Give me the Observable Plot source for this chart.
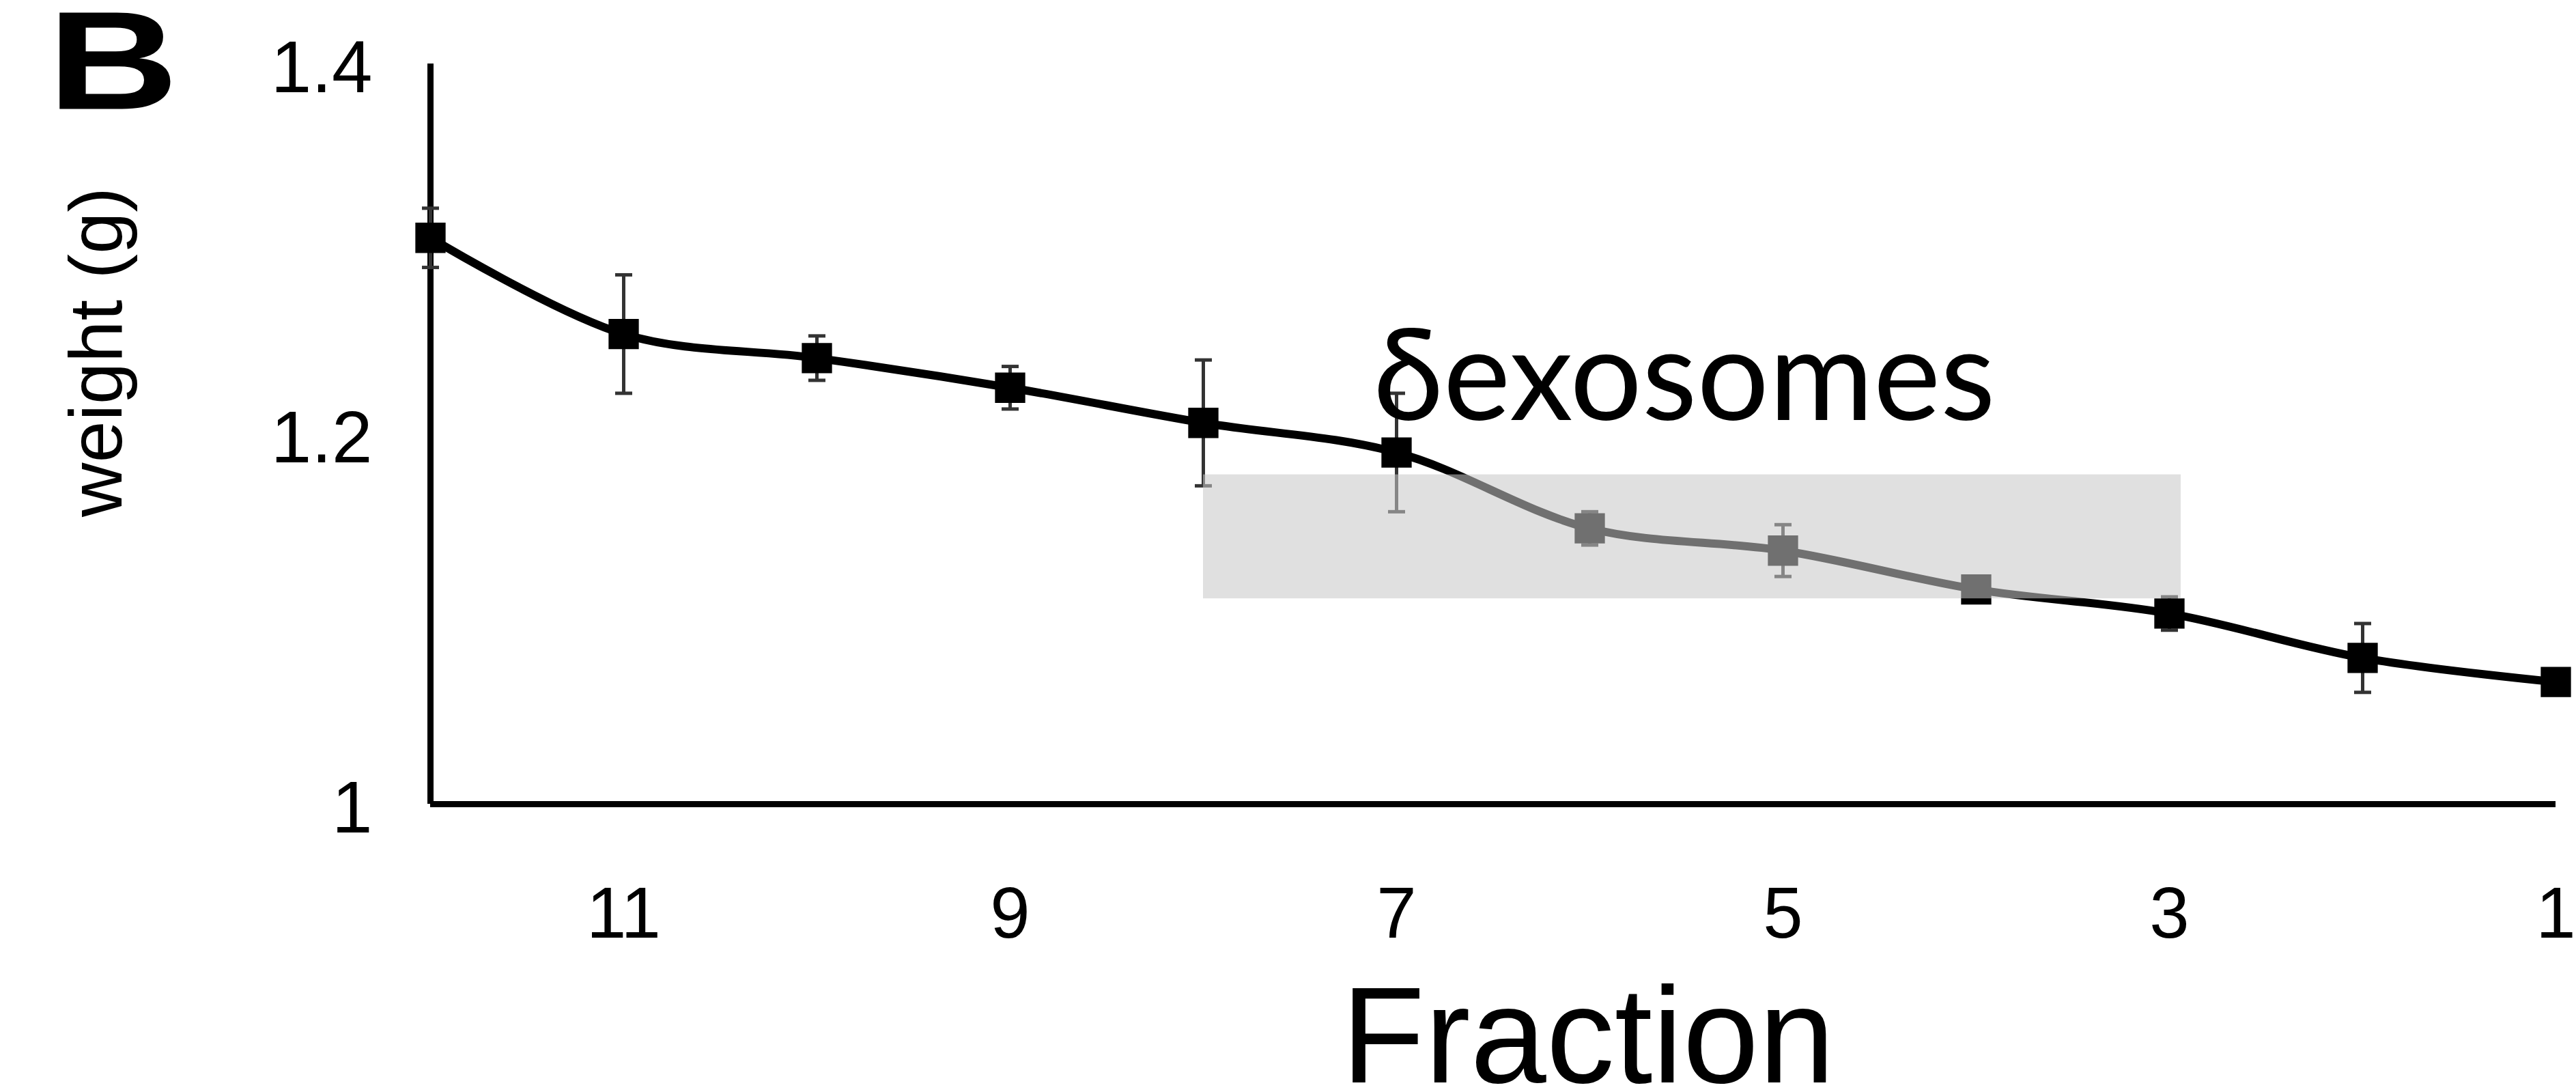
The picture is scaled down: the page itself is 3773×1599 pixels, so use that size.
<!DOCTYPE html>
<html>
<head>
<meta charset="utf-8">
<script src="https://cdn.jsdelivr.net/npm/d3@7"></script>
<script src="https://cdn.jsdelivr.net/npm/@observablehq/plot@0.6"></script>
<style>
  html, body { margin: 0; padding: 0; background: #fff; }
  #chart svg { display: block; }
</style>
</head>
<body>
<div id="chart"></div>
<script>
// ---- data ----
const fractions = [12, 11, 10, 9, 8, 7, 6, 5, 4, 3, 2, 1];
const weights   = [1.306, 1.254, 1.241, 1.225, 1.206, 1.190, 1.149, 1.137, 1.116, 1.103, 1.079, 1.066];
const errors    = [0.016, 0.032, 0.012, 0.0115, 0.034, 0.032, 0.009, 0.014, 0, 0.009, 0.0186, 0];

const xTicks = [11, 9, 7, 5, 3, 1];
const yTicks = [1, 1.2, 1.4];
const xDomain = [12, 1];
const yDomain = [1, 1.4];

// shaded exosome band (fraction range, weight range)
const bandFractions = [8, 2.94];
const bandWeights = [1.111, 1.178];

// annotation
const bandLabel = ["δexosomes"];
const bandLabelFraction = [7.12];
const bandLabelWeight = [1.2074];

const panelLabel = ["B"];
const yLabel = ["weight (g)"];
const xLabel = ["Fraction"];

// ---- build table ----
const rows = fractions.map((f, i) => ({fraction: f, weight: weights[i], err: errors[i]}));
const errRows = rows.filter(d => d.err > 0);
const band = [{x1: bandFractions[0], x2: bandFractions[1], y1: bandWeights[0], y2: bandWeights[1]}];
const labelRows = bandLabel.map((t, i) => ({text: t, x: bandLabelFraction[i], y: bandLabelWeight[i]}));

// horizontal cap symbol for error bars (width = 2r)
const capSymbol = {
  draw(context, size) {
    const r = Math.sqrt(size / Math.PI);
    context.moveTo(-r, 0);
    context.lineTo(r, 0);
  }
};

const font = "'Liberation Sans', Arial, Helvetica, sans-serif";

const chart = Plot.plot({
  width: 3773,
  height: 1599,
  marginLeft: 630,
  marginRight: 30,
  marginTop: 93,
  marginBottom: 422,
  style: {fontFamily: font, background: "#fff", color: "#000", overflow: "visible"},
  x: {domain: xDomain},
  y: {domain: yDomain},
  marks: [
    // axes lines
    Plot.ruleY([yDomain[0]], {stroke: "#000", strokeWidth: 9}),
    Plot.ruleX([xDomain[0]], {stroke: "#000", strokeWidth: 9}),
    Plot.axisX({ticks: xTicks, tickSize: 0, tickPadding: 121, fontSize: 105, label: null, tickFormat: d => String(d)}),
    Plot.axisY({ticks: yTicks, tickSize: 0, tickPadding: 85, fontSize: 107, label: null, dy: 7, tickFormat: d => String(d)}),
    // error bars
    Plot.ruleX(errRows, {x: "fraction", y1: d => d.weight - d.err, y2: d => d.weight + d.err, stroke: "#333", strokeWidth: 5}),
    Plot.dot(errRows, {x: "fraction", y: d => d.weight - d.err, symbol: capSymbol, r: 12.5, fill: "none", stroke: "#333", strokeWidth: 5}),
    Plot.dot(errRows, {x: "fraction", y: d => d.weight + d.err, symbol: capSymbol, r: 12.5, fill: "none", stroke: "#333", strokeWidth: 5}),
    // smoothed line
    Plot.line(rows, {x: "fraction", y: "weight", stroke: "#000", strokeWidth: 12, curve: "catmull-rom"}),
    // square markers
    Plot.dot(rows, {x: "fraction", y: "weight", symbol: "square", r: 25, fill: "#000", stroke: "none"}),
    // translucent gray band drawn over the series
    Plot.rect(band, {x1: "x1", x2: "x2", y1: "y1", y2: "y2", fill: "rgb(200,200,200)", fillOpacity: 0.56}),
    // annotation
    Plot.text(labelRows, {x: "x", y: "y", text: "text", fontFamily: "Lato, 'Open Sans', sans-serif", fontSize: 186, textAnchor: "start", lineAnchor: "bottom", fill: "#000"}),
    // panel letter
    Plot.text(panelLabel, {text: d => d, frameAnchor: "top-left", dx: -561, dy: 66, lineAnchor: "bottom", textAnchor: "start", fontSize: 205, fontWeight: "bold", fill: "#000"}),
    // y label
    Plot.text(yLabel, {text: d => d, frameAnchor: "left", rotate: -90, dx: -453, dy: -120, lineAnchor: "bottom", textAnchor: "middle", fontSize: 110, fill: "#000"}),
    // x label
    Plot.text(xLabel, {text: d => d, frameAnchor: "bottom", dx: 139, dy: 407, lineAnchor: "bottom", textAnchor: "middle", fontSize: 200, fill: "#000"})
  ]
});

// widen the bold panel letter as in the reference
d3.select(chart).selectAll("text").filter(function() { return this.textContent === "B"; })
  .attr("textLength", 192).attr("lengthAdjust", "spacingAndGlyphs");

document.getElementById("chart").appendChild(chart);
</script>
</body>
</html>
